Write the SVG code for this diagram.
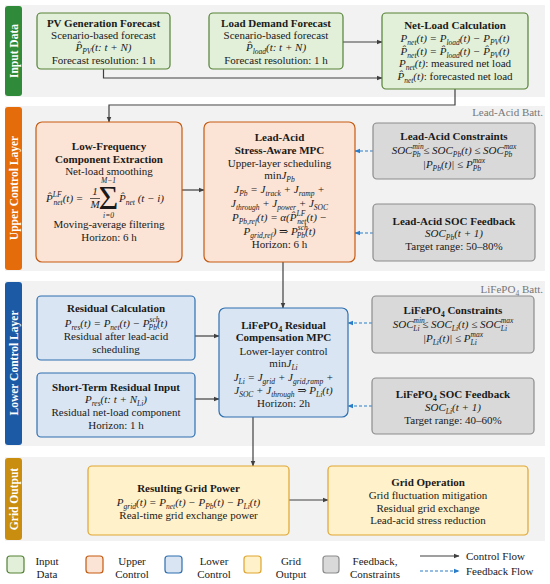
<svg xmlns="http://www.w3.org/2000/svg" width="550" height="584" viewBox="0 0 550 584">
<style>
.tx{font-family:"Liberation Serif","DejaVu Serif",serif;font-size:11px;fill:#1a1a1a;text-anchor:middle}
.bd{font-weight:bold}
.it{font-style:italic}
.sb{font-size:7.5px;baseline-shift:-2.5px}
.sp{font-size:7.5px;baseline-shift:5px}
.band{fill:#f2f2f2}
.lbl{font-family:"Liberation Serif","DejaVu Serif",serif;font-size:11.5px;font-weight:bold;fill:#fff;text-anchor:middle}
.g{fill:#e2efd9;stroke:#548235;stroke-width:1.2}
.o{fill:#fbe3d5;stroke:#c55a11;stroke-width:1.2}
.bl{fill:#d9e5f3;stroke:#2e6fb0;stroke-width:1.2}
.y{fill:#fff1c9;stroke:#e0a530;stroke-width:1.2}
.gr{fill:#d9d9d9;stroke:#8c8c8c;stroke-width:1.2}
.cf{fill:none;stroke:#404040;stroke-width:1.2;marker-end:url(#ah)}
.ff{fill:none;stroke:#2a7cc7;stroke-width:1.2;stroke-dasharray:3 2;marker-end:url(#ahb)}
.batt{font-family:"Liberation Serif","DejaVu Serif",serif;font-size:11px;fill:#777;text-anchor:end}
</style>
<defs>
<marker id="ah" viewBox="0 0 10 10" refX="9" refY="5" markerWidth="6" markerHeight="6" markerUnits="userSpaceOnUse" orient="auto"><path d="M0,1 L10,5 L0,9 z" fill="#404040"/></marker>
<marker id="ahb" viewBox="0 0 10 10" refX="9" refY="5" markerWidth="6" markerHeight="6" markerUnits="userSpaceOnUse" orient="auto"><path d="M0,1 L10,5 L0,9 z" fill="#2a7cc7"/></marker>
</defs>
<rect width="550" height="584" fill="#fff"/>
<g id="bands">
<rect class="band" x="5" y="5" width="540" height="92"/>
<rect x="5" y="6" width="17" height="90" rx="3" fill="#2f8a3a"/>
<text class="lbl" transform="translate(17.5,51) rotate(-90)">Input Data</text>
<rect class="band" x="5" y="106" width="540" height="165"/>
<rect x="5" y="107" width="17" height="163" rx="3" fill="#e46c0a"/>
<text class="lbl" transform="translate(17.5,188) rotate(-90)">Upper Control Layer</text>
<text class="batt" x="543" y="116">Lead-Acid Batt.</text>
<rect class="band" x="5" y="281" width="540" height="165"/>
<rect x="5" y="282" width="17" height="163" rx="3" fill="#1c5aa6"/>
<text class="lbl" transform="translate(17.5,363) rotate(-90)">Lower Control Layer</text>
<text class="batt" x="543" y="293">LiFePO<tspan class="sb">4</tspan> Batt.</text>
<rect class="band" x="5" y="457" width="540" height="84"/>
<rect x="5" y="458" width="17" height="82" rx="3" fill="#c98d0f"/>
<text class="lbl" transform="translate(17.5,499) rotate(-90)">Grid Output</text>
</g>
<g id="connectors">
<path class="cf" d="M103.5,69 V78 H382"/>
<path class="cf" d="M343,42 H382"/>
<path class="cf" d="M455,89 V105 H109 V122"/>
<path class="cf" d="M182,190 H204"/>
<path class="ff" d="M373,151 H355"/>
<path class="ff" d="M373,233 H355"/>
<path class="cf" d="M283,262 V308"/>
<path class="cf" d="M195,336 H219"/>
<path class="cf" d="M195,399 H219"/>
<path class="ff" d="M372,323 H348"/>
<path class="ff" d="M372,406 H348"/>
<path class="cf" d="M253,417 V466"/>
<path class="cf" d="M289,500 H328"/>
</g>
<g id="pv">
<rect class="g" x="37" y="13" width="133" height="56" rx="4"/>
<text class="tx bd" x="103.5" y="27">PV Generation Forecast</text>
<text class="tx" x="103.5" y="39">Scenario-based forecast</text>
<text class="tx it" x="103.5" y="51">P̂<tspan class="sb">PV</tspan>(t: t + N)</text>
<text class="tx" x="103.5" y="64">Forecast resolution: 1 h</text>
</g>
<g id="load">
<rect class="g" x="209" y="13" width="134" height="56" rx="4"/>
<text class="tx bd" x="276" y="27">Load Demand Forecast</text>
<text class="tx" x="276" y="39">Scenario-based forecast</text>
<text class="tx it" x="276" y="51">P̂<tspan class="sb">load</tspan>(t: t + N)</text>
<text class="tx" x="276" y="64">Forecast resolution: 1 h</text>
</g>
<g id="netload">
<rect class="g" x="382" y="13" width="146" height="76" rx="4"/>
<text class="tx bd" x="455" y="29">Net-Load Calculation</text>
<text class="tx it" x="455" y="42">P<tspan class="sb">net</tspan>(t) = P<tspan class="sb">load</tspan>(t) − P<tspan class="sb">PV</tspan>(t)</text>
<text class="tx it" x="455" y="55">P̂<tspan class="sb">net</tspan>(t) = P̂<tspan class="sb">load</tspan>(t) − P̂<tspan class="sb">PV</tspan>(t)</text>
<text class="tx" x="455" y="67"><tspan class="it">P<tspan class="sb">net</tspan>(t)</tspan>: measured net load</text>
<text class="tx" x="455" y="80"><tspan class="it">P̂<tspan class="sb">net</tspan>(t)</tspan>: forecasted net load</text>
</g>
<g id="lowfreq">
<rect class="o" x="36" y="122" width="146" height="140" rx="6"/>
<text class="tx bd" x="109" y="150">Low-Frequency</text>
<text class="tx bd" x="109" y="163">Component Extraction</text>
<text class="tx" x="109" y="175">Net-load smoothing</text>
<text class="tx it" x="46" y="202" style="text-anchor:start">P̂<tspan class="sp">LF</tspan><tspan class="sb" dx="-8">net</tspan>(t) =</text>
<text class="tx it" x="95" y="195">1</text>
<line x1="90" y1="198.5" x2="100" y2="198.5" stroke="#1a1a1a" stroke-width="0.7"/>
<text class="tx it" x="95" y="208">M</text>
<text class="tx" x="108.5" y="209" style="font-size:34px">Σ</text>
<text class="tx it" x="108.5" y="183" style="font-size:7.5px">M−1</text>
<text class="tx it" x="108.5" y="218" style="font-size:7.5px">i=0</text>
<text class="tx it" x="119" y="202" style="text-anchor:start">P̂<tspan class="sb">net</tspan> (t − i)</text>
<text class="tx" x="109" y="228">Moving-average filtering</text>
<text class="tx" x="109" y="241">Horizon: 6 h</text>
</g>
<g id="leadmpc">
<rect class="o" x="204" y="122" width="151" height="140" rx="6"/>
<text class="tx bd" x="279.5" y="141">Lead-Acid</text>
<text class="tx bd" x="279.5" y="154">Stress-Aware MPC</text>
<text class="tx" x="279.5" y="167">Upper-layer scheduling</text>
<text class="tx" x="279.5" y="179">min<tspan class="it">J<tspan class="sb">Pb</tspan></tspan></text>
<text class="tx it" x="279.5" y="193">J<tspan class="sb">Pb</tspan> = J<tspan class="sb">track</tspan> + J<tspan class="sb">ramp</tspan> +</text>
<text class="tx it" x="279.5" y="207">J<tspan class="sb">through</tspan> + J<tspan class="sb">power</tspan> + J<tspan class="sb">SOC</tspan></text>
<text class="tx it" x="279.5" y="221">P<tspan class="sb">Pb,ref</tspan>(t) = α(P̂<tspan class="sp">LF</tspan><tspan class="sb" dx="-8">net</tspan>(t) −</text>
<text class="tx it" x="279.5" y="235">P<tspan class="sb">grid,ref</tspan>) ⇒ P<tspan class="sp">sch</tspan><tspan class="sb" dx="-11">Pb</tspan>(t)</text>
<text class="tx" x="279.5" y="248">Horizon: 6 h</text>
</g>
<g id="leadcons">
<rect class="gr" x="373" y="123" width="162" height="56" rx="4"/>
<text class="tx bd" x="454" y="140">Lead-Acid Constraints</text>
<text class="tx it" x="454" y="154">SOC<tspan class="sp">min</tspan><tspan class="sb" dx="-11.5">Pb</tspan> ≤ SOC<tspan class="sb">Pb</tspan>(t) ≤ SOC<tspan class="sp">max</tspan><tspan class="sb" dx="-12.5">Pb</tspan></text>
<text class="tx it" x="454" y="168">|P<tspan class="sb">Pb</tspan>(t)| ≤ P<tspan class="sp">max</tspan><tspan class="sb" dx="-12.5">Pb</tspan></text>
</g>
<g id="leadsoc">
<rect class="gr" x="373" y="204" width="162" height="57" rx="4"/>
<text class="tx bd" x="454" y="225">Lead-Acid SOC Feedback</text>
<text class="tx it" x="454" y="237">SOC<tspan class="sb">Pb</tspan>(t + 1)</text>
<text class="tx" x="454" y="250">Target range: 50–80%</text>
</g>
<g id="residual">
<rect class="bl" x="37" y="296" width="158" height="64" rx="4"/>
<text class="tx bd" x="116" y="312">Residual Calculation</text>
<text class="tx it" x="116" y="327">P<tspan class="sb">res</tspan>(t) = P<tspan class="sb">net</tspan>(t) − P<tspan class="sp">sch</tspan><tspan class="sb" dx="-11">Pb</tspan>(t)</text>
<text class="tx" x="116" y="340">Residual after lead-acid</text>
<text class="tx" x="116" y="353">scheduling</text>
</g>
<g id="shortterm">
<rect class="bl" x="37" y="373" width="158" height="64" rx="4"/>
<text class="tx bd" x="116" y="391">Short-Term Residual Input</text>
<text class="tx it" x="116" y="403">P<tspan class="sb">res</tspan>(t: t + N<tspan class="sb">Li</tspan>)</text>
<text class="tx" x="116" y="416">Residual net-load component</text>
<text class="tx" x="116" y="429">Horizon: 1 h</text>
</g>
<g id="limpc">
<rect class="bl" x="219" y="308" width="129" height="109" rx="6"/>
<text class="tx bd" x="283.5" y="329">LiFePO<tspan class="sb">4</tspan> Residual</text>
<text class="tx bd" x="283.5" y="341">Compensation MPC</text>
<text class="tx" x="283.5" y="355">Lower-layer control</text>
<text class="tx" x="283.5" y="367">min<tspan class="it">J<tspan class="sb">Li</tspan></tspan></text>
<text class="tx it" x="283.5" y="381">J<tspan class="sb">Li</tspan> = J<tspan class="sb">grid</tspan> + J<tspan class="sb">grid,ramp</tspan> +</text>
<text class="tx it" x="283.5" y="394">J<tspan class="sb">SOC</tspan> + J<tspan class="sb">through</tspan> ⇒ P<tspan class="sb">Li</tspan>(t)</text>
<text class="tx" x="283.5" y="407">Horizon: 2h</text>
</g>
<g id="licons">
<rect class="gr" x="372" y="296" width="162" height="57" rx="4"/>
<text class="tx bd" x="453" y="314">LiFePO<tspan class="sb">4</tspan>  Constraints</text>
<text class="tx it" x="453" y="328">SOC<tspan class="sp">min</tspan><tspan class="sb" dx="-11.5">Li</tspan> ≤ SOC<tspan class="sb">Li</tspan>(t) ≤ SOC<tspan class="sp">max</tspan><tspan class="sb" dx="-12.5">Li</tspan></text>
<text class="tx it" x="453" y="342">|P<tspan class="sb">Li</tspan>(t)| ≤ P<tspan class="sp">max</tspan><tspan class="sb" dx="-12.5">Li</tspan></text>
</g>
<g id="lisoc">
<rect class="gr" x="372" y="378" width="162" height="56" rx="4"/>
<text class="tx bd" x="453" y="398">LiFePO<tspan class="sb">4</tspan> SOC Feedback</text>
<text class="tx it" x="453" y="411">SOC<tspan class="sb">Li</tspan>(t + 1)</text>
<text class="tx" x="453" y="424">Target range: 40–60%</text>
</g>
<g id="gridpower">
<rect class="y" x="88" y="466" width="201" height="69" rx="4"/>
<text class="tx bd" x="188.5" y="492">Resulting Grid Power</text>
<text class="tx it" x="188.5" y="506">P<tspan class="sb">grid</tspan>(t) = P<tspan class="sb">net</tspan>(t) − P<tspan class="sb">Pb</tspan>(t) − P<tspan class="sb">Li</tspan>(t)</text>
<text class="tx" x="188.5" y="519">Real-time grid exchange power</text>
</g>
<g id="gridop">
<rect class="y" x="328" y="466" width="200" height="69" rx="4"/>
<text class="tx bd" x="428" y="486">Grid Operation</text>
<text class="tx" x="428" y="499">Grid fluctuation mitigation</text>
<text class="tx" x="428" y="512">Residual grid exchange</text>
<text class="tx" x="428" y="524">Lead-acid stress reduction</text>
</g>
<g id="legend">
<rect class="g" x="7" y="556" width="17" height="17" rx="3"/>
<text class="tx" x="47" y="565">Input</text><text class="tx" x="47" y="578">Data</text>
<rect class="o" x="86" y="556" width="17" height="17" rx="3"/>
<text class="tx" x="132" y="565">Upper</text><text class="tx" x="132" y="578">Control</text>
<rect class="bl" x="165" y="556" width="17" height="17" rx="3"/>
<text class="tx" x="214" y="565">Lower</text><text class="tx" x="214" y="578">Control</text>
<rect class="y" x="244" y="556" width="17" height="17" rx="3"/>
<text class="tx" x="291" y="565">Grid</text><text class="tx" x="291" y="578">Output</text>
<rect class="gr" x="323" y="556" width="16" height="17" rx="3"/>
<text class="tx" x="375" y="565">Feedback,</text><text class="tx" x="375" y="578">Constraints</text>
<path class="cf" d="M420,556 H459"/>
<text class="tx" x="466" y="559.5" style="text-anchor:start">Control Flow</text>
<path class="ff" d="M420,571 H459"/>
<text class="tx" x="466" y="574.5" style="text-anchor:start">Feedback Flow</text>
</g>
</svg>
